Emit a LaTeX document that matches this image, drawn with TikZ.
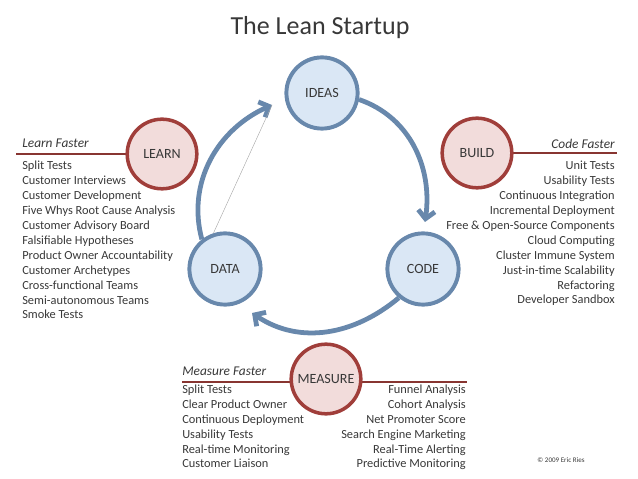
\documentclass[tikz,border=0pt]{standalone}
\usepackage{fontspec}
\setmainfont{Carlito}
\usepackage{xcolor}
\usepackage{tikz}
\usetikzlibrary{arrows.meta, positioning}

\definecolor{cyclefill}{RGB}{218,231,245}
\definecolor{cycleline}{RGB}{104,136,172}
\definecolor{practfill}{RGB}{242,220,219}
\definecolor{practline}{RGB}{160,62,58}
\definecolor{textgray}{RGB}{56,56,56}

\begin{document}
\begin{tikzpicture}[
  x=0.025cm, y=0.025cm,
  % --- Circle styles ---
  basecirc/.style={
    circle, align=center,
    font=\fontsize{10}{12}\selectfont, text=textgray,
    inner sep=0pt
  },
  cyclecirc/.style={basecirc, minimum size=1.78cm, line width=2.8pt,
    draw=cycleline, fill=cyclefill},
  practcirc/.style={basecirc, minimum size=1.74cm, line width=2.5pt,
    draw=practline, fill=practfill},
  % --- Arrows and rules ---
  loopflow/.style={-{Straight Barb[length=0.2cm, width=0.42cm]},
    line width=3.4pt, color=cycleline},
  hairline/.style={line width=0.3pt, color=black!35},
  rule/.style={line width=0.8pt, color=practline!85!black},
  % --- Text ---
  heading/.style={font=\fontsize{9.5}{11}\selectfont\itshape,
    text=textgray, inner sep=0pt},
  practlist/.style={font=\fontsize{8.8}{10.6}\selectfont,
    text=textgray, inner sep=0pt},
]
\useasboundingbox (0,0) rectangle (638,479);

% ===================== TITLE =====================
\node[font=\fontsize{18.5}{22}\selectfont, text=textgray, anchor=base]
  (title) at (320,444) {The Lean Startup};

% ================ HEADING RULES ================
\draw[rule] (16,325) -- (162,325);
\draw[rule] (477,326) -- (617,326);
\draw[rule] (182,97) -- (467,97);

% ===================== CYCLE =====================
\node[cyclecirc] (ideas) at (322,386) {IDEAS};
\node[cyclecirc] (code)  at (423,210) {CODE};
\node[cyclecirc] (data)  at (225,210) {DATA};

\coordinate (codein)  at ([shift={(2,47)}]code);
\coordinate (datain)  at ([shift={(27,-44)}]data);
\coordinate (ideasin) at ([shift={(-50,-12)}]ideas);

\draw[loopflow] (ideas.-10) to[out=-19, in=82] (codein);
\draw[loopflow] (code.-130) to[out=-140, in=-34] (datain);
\draw[loopflow] (data.128) to[out=105, in=-156] (ideasin);

\draw[hairline] (data.108) -- (ideasin);

% ================ PRACTICE CIRCLES ================
\node[practcirc] (learn)   at (162,325) {LEARN};
\node[practcirc] (build)   at (477,326) {BUILD};
\node[practcirc] (measure) at (326,100) {MEASURE};

% ===================== LEARN =====================
% (base of a multi-line node = its last line)
\node[heading, anchor=base west] (learnhead) at (22,331)
  {Learn Faster};
\node[practlist, anchor=base west, align=left] (learnlist) at (22,160)
  {Split Tests\\ Customer Interviews\\ Customer Development\\
   Five Whys Root Cause Analysis\\ Customer Advisory Board\\
   Falsifiable Hypotheses\\ Product Owner Accountability\\
   Customer Archetypes\\ Cross-functional Teams\\
   Semi-autonomous Teams\\ Smoke Tests};

% ===================== BUILD =====================
\node[heading, anchor=base east] (buildhead) at (615,330)
  {Code Faster};
\node[practlist, anchor=base east, align=right] (buildlist) at (615,175)
  {Unit Tests\\ Usability Tests\\ Continuous Integration\\
   Incremental Deployment\\ Free \& Open-Source Components\\
   Cloud Computing\\ Cluster Immune System\\
   Just-in-time Scalability\\ Refactoring\\ Developer Sandbox};

% ===================== MEASURE =====================
\node[heading, anchor=base west] (measurehead) at (182,103)
  {Measure Faster};
\node[practlist, anchor=base west, align=left] (measureleft) at (182,11)
  {Split Tests\\ Clear Product Owner\\ Continuous Deployment\\
   Usability Tests\\ Real-time Monitoring\\ Customer Liaison};
\node[practlist, anchor=base east, align=right] (measureright) at (466,11)
  {Funnel Analysis\\ Cohort Analysis\\ Net Promoter Score\\
   Search Engine Marketing\\ Real-Time Alerting\\
   Predictive Monitoring};

% copyright line
\node[font=\fontsize{5}{6}\selectfont, text=textgray] (credit) at (561,19)
  {\textcopyright{} 2009 Eric Ries};

\end{tikzpicture}
\end{document}
